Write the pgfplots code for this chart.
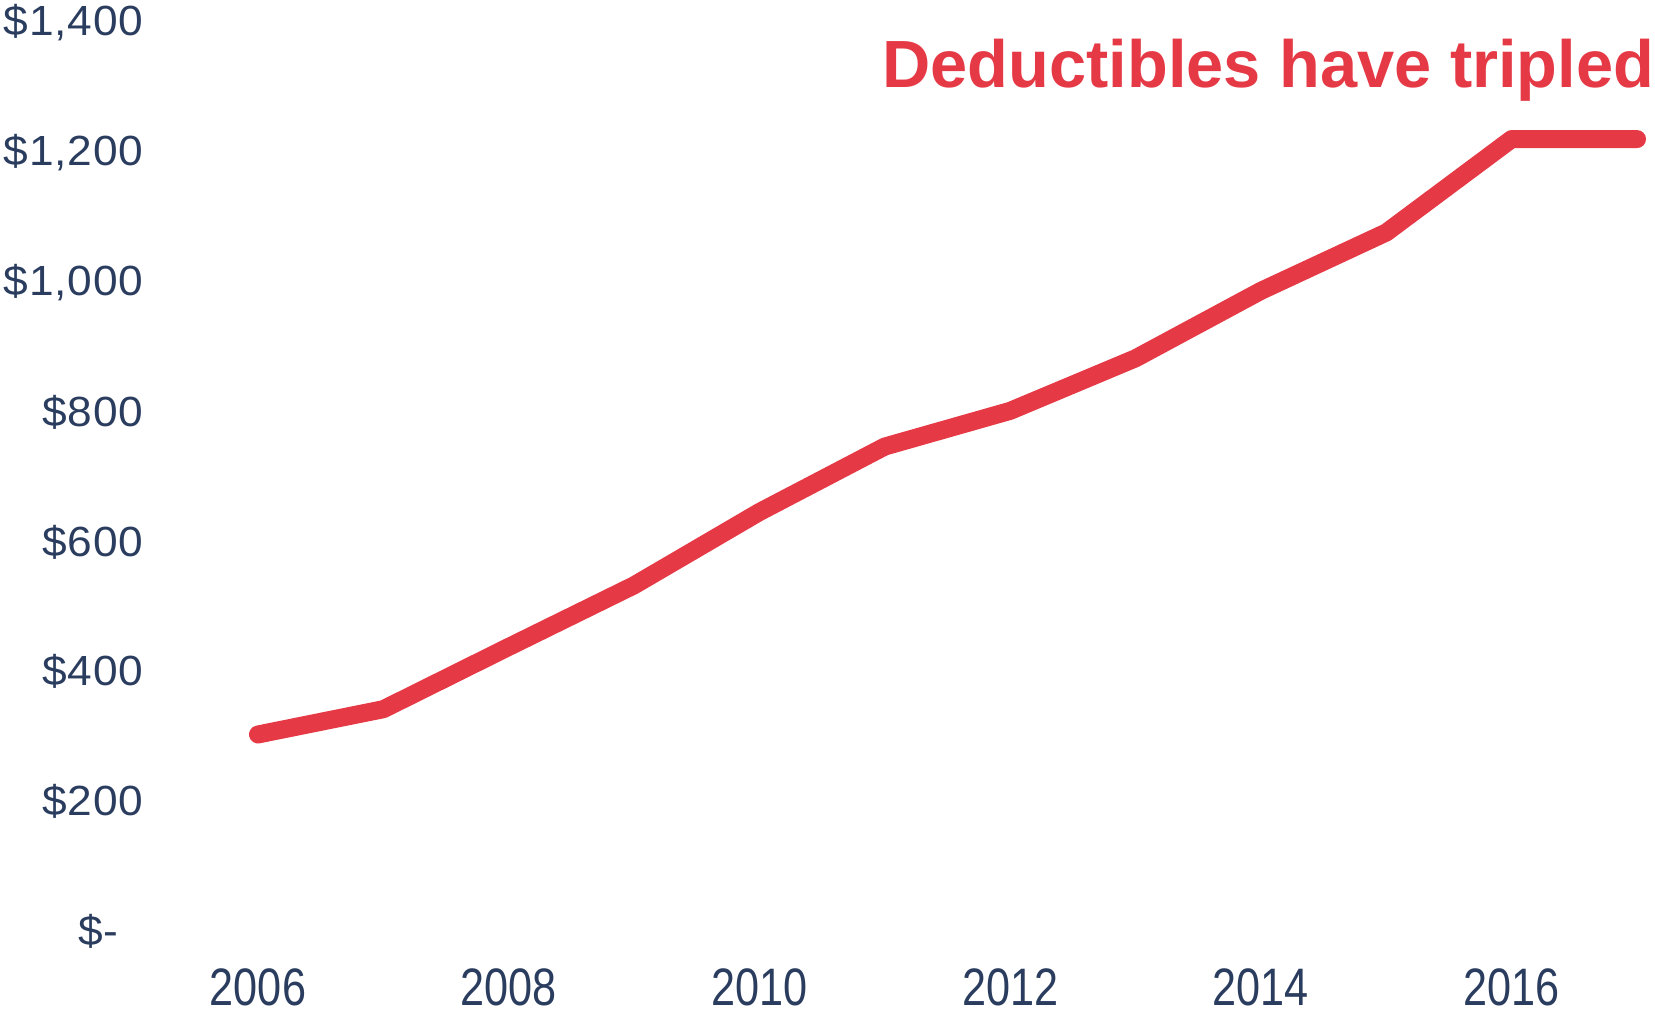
\documentclass[border=0pt]{standalone}
\usepackage{pgfplots}
\pgfplotsset{compat=1.18}
\usepackage{fontspec}
\setmainfont{Liberation Sans}
\newfontfamily\yfont[FakeStretch=1.05,LetterSpace=2]{Liberation Sans}
\newfontfamily\xfont[FakeStretch=0.82]{Liberation Sans}
\definecolor{dedred}{HTML}{E63946}
\definecolor{navy}{HTML}{2B3D5F}
\begin{document}
\begin{tikzpicture}
\begin{axis}[
    scale only axis,
    width=137.9mm,
    height=90.8mm,
    xmin=2006, xmax=2017,
    ymin=0, ymax=1400,
    xtick={2006,2008,...,2016},
    ytick={0,200,...,1400},
    xticklabels={2006,2008,2010,2012,2014,2016},
    yticklabels={\$-\hphantom{0},\$200,\$400,\$600,\$800,\$1{,}000,\$1{,}200,\$1{,}400},
    axis line style={draw=none},
    tick style={draw=none},
    clip=false,
    yticklabel style={font=\yfont\fontsize{12}{14}\selectfont, text=navy, anchor=east, inner sep=0pt, xshift=-11.4mm},
    xticklabel style={font=\xfont\fontsize{15}{18}\selectfont, text=navy, anchor=north, inner sep=0pt, yshift=-3.7mm},
]
\addplot[dedred, line width=1.8mm, line cap=round, line join=round] coordinates {
    (2006,303) (2007,342) (2008,438) (2009,533) (2010,646) (2011,747)
    (2012,802) (2013,883) (2014,987) (2015,1077) (2016,1221) (2017,1221)
};
\node[anchor=base east, inner sep=0pt, xshift=1.8mm, text=dedred,
      font=\bfseries\fontsize{19}{22}\selectfont] at (axis cs:2017,1301) {Deductibles have tripled};
\coordinate (o) at (axis cs:2006,0);
\end{axis}
\pgfresetboundingbox
\useasboundingbox ([xshift=-25.8mm,yshift=-8.2mm]o) rectangle ([xshift=139.7mm,yshift=93.1mm]o);
\end{tikzpicture}
\end{document}
